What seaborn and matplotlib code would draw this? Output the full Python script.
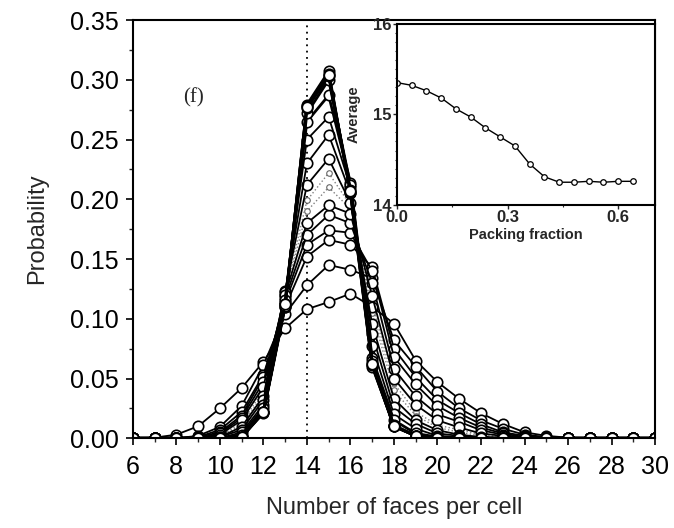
import numpy as np
import pandas as pd
import matplotlib
matplotlib.use("Agg")
import matplotlib.pyplot as plt
from matplotlib.ticker import MultipleLocator
import seaborn as sns

sns.set_style("ticks")
plt.rcParams['font.family'] = ['Liberation Sans', 'DejaVu Sans']

# number of faces per cell (x axis of the main plot)
faces = list(range(6, 31))

# probability distributions, one per packing fraction (wide -> narrow)
c00 = [0, 0.0005, 0.003, 0.010, 0.025, 0.042, 0.064, 0.092, 0.108, 0.114, 0.121, 0.110, 0.096, 0.065, 0.047, 0.033, 0.021, 0.012, 0.005, 0.002, 0.0005, 0, 0, 0, 0]
c01 = [0, 0, 0, 0.002, 0.0095, 0.027, 0.061, 0.104, 0.128, 0.145, 0.141, 0.134, 0.082, 0.060, 0.039, 0.025, 0.015, 0.008, 0.003, 0.001, 0, 0, 0, 0, 0]
c02 = [0, 0, 0, 0.001, 0.007, 0.022, 0.053, 0.110, 0.152, 0.166, 0.162, 0.143, 0.075, 0.051, 0.032, 0.021, 0.0117, 0.005, 0.002, 0, 0, 0, 0, 0, 0]
c03 = [0, 0, 0, 0.001, 0.005, 0.019, 0.051, 0.114, 0.162, 0.174, 0.172, 0.140, 0.068, 0.045, 0.027, 0.017, 0.009, 0.004, 0.001, 0, 0, 0, 0, 0, 0]
c04 = [0, 0, 0, 0, 0.004, 0.017, 0.047, 0.117, 0.170, 0.187, 0.180, 0.130, 0.058, 0.035, 0.020, 0.0137, 0.0067, 0.003, 0, 0, 0, 0, 0, 0, 0]
c05 = [0, 0, 0, 0, 0.003, 0.015, 0.043, 0.120, 0.180, 0.195, 0.188, 0.119, 0.050, 0.028, 0.015, 0.009, 0.004, 0.002, 0, 0, 0, 0, 0, 0, 0]
c06 = [0, 0, 0, 0, 0.002, 0.013, 0.040, 0.121, 0.190, 0.210, 0.192, 0.112, 0.046, 0.022, 0.011, 0.007, 0.003, 0.001, 0, 0, 0, 0, 0, 0, 0]
c07 = [0, 0, 0, 0, 0.002, 0.011, 0.037, 0.122, 0.199, 0.222, 0.195, 0.105, 0.040, 0.019, 0.009, 0.005, 0.002, 0, 0, 0, 0, 0, 0, 0, 0]
c08 = [0, 0, 0, 0, 0.001, 0.0095, 0.035, 0.123, 0.212, 0.234, 0.197, 0.0955, 0.033, 0.015, 0.0067, 0.003, 0.001, 0, 0, 0, 0, 0, 0, 0, 0]
c09 = [0, 0, 0, 0, 0.001, 0.007, 0.032, 0.122, 0.230, 0.254, 0.205, 0.087, 0.026, 0.012, 0.004, 0.002, 0, 0, 0, 0, 0, 0, 0, 0, 0]
c10 = [0, 0, 0, 0, 0, 0.005, 0.028, 0.120, 0.250, 0.269, 0.210, 0.077, 0.020, 0.008, 0.002, 0.001, 0, 0, 0, 0, 0, 0, 0, 0, 0]
c11 = [0, 0, 0, 0, 0, 0.003, 0.025, 0.116, 0.265, 0.287, 0.214, 0.067, 0.015, 0.004, 0.001, 0, 0, 0, 0, 0, 0, 0, 0, 0, 0]
c12 = [0, 0, 0, 0, 0, 0.001, 0.022, 0.112, 0.272, 0.300, 0.212, 0.065, 0.010, 0.002, 0, 0, 0, 0, 0, 0, 0, 0, 0, 0, 0]
c13 = [0, 0, 0, 0, 0, 0.001, 0.022, 0.112, 0.276, 0.303, 0.208, 0.062, 0.010, 0.002, 0, 0, 0, 0, 0, 0, 0, 0, 0, 0, 0]
c14 = [0, 0, 0, 0, 0, 0.001, 0.021, 0.110, 0.279, 0.307, 0.205, 0.060, 0.011, 0.002, 0, 0, 0, 0, 0, 0, 0, 0, 0, 0, 0]
c15 = [0, 0, 0, 0, 0, 0.001, 0.022, 0.111, 0.278, 0.305, 0.206, 0.061, 0.010, 0.002, 0, 0, 0, 0, 0, 0, 0, 0, 0, 0, 0]
c16 = [0, 0, 0, 0, 0, 0.001, 0.022, 0.112, 0.277, 0.304, 0.207, 0.062, 0.010, 0.002, 0, 0, 0, 0, 0, 0, 0, 0, 0, 0, 0]

# inset: average number of faces vs packing fraction
packing = [0.00, 0.04, 0.08, 0.12, 0.16, 0.20, 0.24, 0.28, 0.32, 0.36, 0.40, 0.44, 0.48, 0.52, 0.56, 0.60, 0.64]
average = [15.35, 15.32, 15.26, 15.18, 15.06, 14.97, 14.85, 14.75, 14.65, 14.45, 14.31, 14.25, 14.25, 14.26, 14.25, 14.26, 14.26]

wide_curves = {"c00": c00, "c01": c01, "c02": c02, "c03": c03, "c04": c04, "c05": c05,
               "c08": c08, "c09": c09, "c10": c10}
dotted_curves = {"c06": c06, "c07": c07}
narrow_curves = {"c11": c11, "c12": c12, "c13": c13, "c14": c14, "c15": c15, "c16": c16}


def to_long(curves):
    rows = []
    for name, vals in curves.items():
        for f, p in zip(faces, vals):
            rows.append({"curve": name, "faces": f, "prob": p})
    return pd.DataFrame(rows)


fig = plt.figure(figsize=(6.74, 5.28), dpi=100)
ax = fig.add_axes([0.197, 0.170, 0.775, 0.792])

ax.axvline(14, color="black", ls=(0, (1, 2.5)), lw=1.3, zorder=1)

sns.lineplot(data=to_long(dotted_curves), x="faces", y="prob", units="curve", estimator=None,
             color="0.5", lw=1.0, ls=":", marker="o", ms=4, mfc="white", mec="0.4",
             mew=0.8, ax=ax, legend=False)
sns.lineplot(data=to_long(wide_curves), x="faces", y="prob", units="curve", estimator=None,
             color="black", lw=1.3, marker="o", ms=7.5, mfc="white", mec="black",
             mew=1.2, ax=ax, legend=False)
sns.lineplot(data=to_long(narrow_curves), x="faces", y="prob", units="curve", estimator=None,
             color="black", lw=2.0, marker="o", ms=7.5, mfc="white", mec="black",
             mew=1.2, ax=ax, legend=False)

ax.set_xlim(6, 30)
ax.set_ylim(0, 0.35)
ax.xaxis.set_major_locator(MultipleLocator(2))
ax.xaxis.set_minor_locator(MultipleLocator(1))
ax.yaxis.set_major_locator(MultipleLocator(0.05))
ax.yaxis.set_minor_locator(MultipleLocator(0.025))
ax.yaxis.set_major_formatter(matplotlib.ticker.FormatStrFormatter("%.2f"))
ax.tick_params(which="major", direction="out", length=5, width=1.2, labelsize=18, colors="black")
ax.tick_params(axis="x", which="major", pad=7)
ax.tick_params(axis="y", which="major", pad=5)
ax.tick_params(which="minor", direction="out", length=3, width=1.0)
for s in ax.spines.values():
    s.set_linewidth(1.5)
    s.set_color("black")
ax.set_xlabel("Number of faces per cell", fontsize=17, labelpad=13)
ax.set_ylabel("Probability", fontsize=17, labelpad=16)
ax.text(8.8, 0.285, "(f)", fontsize=15, family=["Liberation Serif", "DejaVu Serif"],
        ha="center", va="center")

# inset
ins = fig.add_axes([0.589, 0.612, 0.383, 0.343])
sns.lineplot(x=packing, y=average, color="black", lw=1.0, marker="o", ms=4,
             mfc="white", mec="black", mew=0.9, ax=ins)
ins.set_xlim(0, 0.70)
ins.set_ylim(14, 16)
ins.xaxis.set_major_locator(MultipleLocator(0.3))
ins.xaxis.set_minor_locator(MultipleLocator(0.15))
ins.yaxis.set_major_locator(MultipleLocator(1))
ins.yaxis.set_minor_locator(MultipleLocator(0.1))
ins.xaxis.set_major_formatter(matplotlib.ticker.FormatStrFormatter("%.1f"))
ins.tick_params(which="major", direction="out", length=3, width=1.0, labelsize=12, pad=1)
ins.tick_params(which="minor", direction="out", length=1.5, width=0.8)
for lab in ins.get_xticklabels() + ins.get_yticklabels():
    lab.set_fontweight("bold")
for s in ins.spines.values():
    s.set_linewidth(1.5)
    s.set_color("black")
ins.set_xlabel("Packing fraction", fontsize=10.5, fontweight="bold", labelpad=2)
ins.set_ylabel("Average", fontsize=10.5, fontweight="bold", labelpad=9)

fig.savefig("out.png", dpi=100)
